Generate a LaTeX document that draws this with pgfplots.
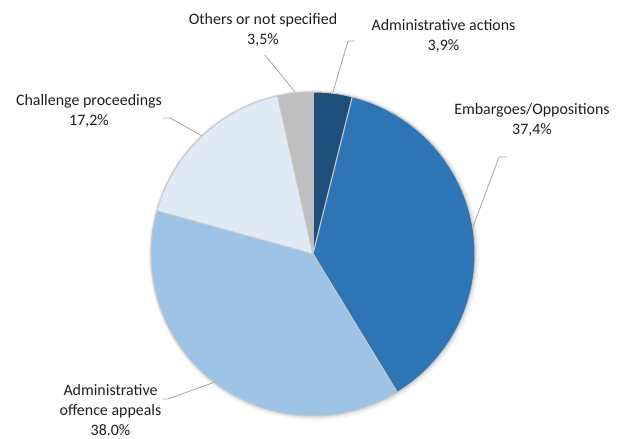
\documentclass[border=0pt]{standalone}
\usepackage{pgfplots}
\pgfplotsset{compat=1.18}
\usepackage{pgfplotstable}
\usepackage{fontspec}
\setmainfont{Carlito}
\definecolor{cA}{HTML}{1F4E79}
\definecolor{cB}{HTML}{2E75B6}
\definecolor{cC}{HTML}{9DC3E6}
\definecolor{cD}{HTML}{DEEBF7}
\definecolor{cE}{HTML}{BFBFBF}
\definecolor{sep}{HTML}{C8C8C8}
\definecolor{lead}{HTML}{A6A6A6}
\definecolor{txt}{HTML}{1E1E1E}
\tikzset{lab/.style={align=center, font=\fontsize{16}{20.5}\selectfont, text=txt, inner sep=0pt}}
\pgfplotstableread{
id share
1 3.9
2 37.4
3 38.0
4 17.2
5 3.5
}\piedata
\begin{document}
\begin{tikzpicture}
\pgfplotstablegetelem{0}{share}\of\piedata \let\sA\pgfplotsretval
\pgfplotstablegetelem{1}{share}\of\piedata \let\sB\pgfplotsretval
\pgfplotstablegetelem{2}{share}\of\piedata \let\sC\pgfplotsretval
\pgfplotstablegetelem{3}{share}\of\piedata \let\sD\pgfplotsretval
\pgfplotstablegetelem{4}{share}\of\piedata \let\sE\pgfplotsretval
\pgfmathsetmacro\aA{90}
\pgfmathsetmacro\aB{\aA-3.6*\sA}
\pgfmathsetmacro\aC{\aB-3.6*\sB}
\pgfmathsetmacro\aD{\aC-3.6*\sC}
\pgfmathsetmacro\aE{\aD-3.6*\sD}
\pgfmathsetmacro\aF{\aE-3.6*\sE}
\begin{axis}[scale only axis, width=625bp, height=439bp,
  xmin=0, xmax=625, ymin=0, ymax=439, hide axis, clip=false]
% soft shadow
\addplot[draw=none, fill=black, opacity=0.05, domain=0:360, samples=120, variable=\t]
  ({314+165*cos(\t)},{184+165*sin(\t)}) -- cycle;
\addplot[draw=none, fill=black, opacity=0.07, domain=0:360, samples=120, variable=\t]
  ({313.5+163.5*cos(\t)},{184.5+163.5*sin(\t)}) -- cycle;
% slices
\addplot[fill=cA, draw=sep, line width=1pt, domain=\aB:\aA, samples=20, variable=\t]
  ({313+162*cos(\t)},{185+162*sin(\t)}) -- (axis cs:313,185) -- cycle;
\addplot[fill=cB, draw=sep, line width=1pt, domain=\aC:\aB, samples=90, variable=\t]
  ({313+162*cos(\t)},{185+162*sin(\t)}) -- (axis cs:313,185) -- cycle;
\addplot[fill=cC, draw=sep, line width=1pt, domain=\aD:\aC, samples=90, variable=\t]
  ({313+162*cos(\t)},{185+162*sin(\t)}) -- (axis cs:313,185) -- cycle;
\addplot[fill=cD, draw=sep, line width=1pt, domain=\aE:\aD, samples=50, variable=\t]
  ({313+162*cos(\t)},{185+162*sin(\t)}) -- (axis cs:313,185) -- cycle;
\addplot[fill=cE, draw=sep, line width=1pt, domain=\aF:\aE, samples=20, variable=\t]
  ({313+162*cos(\t)},{185+162*sin(\t)}) -- (axis cs:313,185) -- cycle;
% leader lines
\draw[lead, line width=0.8pt] (axis cs:333,347) -- (axis cs:348,398) -- (axis cs:355,398);
\draw[lead, line width=0.8pt] (axis cs:295,347) -- (axis cs:265,384);
\draw[lead, line width=0.8pt] (axis cs:473,212) -- (axis cs:499,282) -- (axis cs:507,282);
\draw[lead, line width=0.8pt] (axis cs:163,321) -- (axis cs:170,321) -- (axis cs:202,303);
\draw[lead, line width=0.8pt] (axis cs:163,40) -- (axis cs:168,40) -- (axis cs:215,57);
% labels
\node[lab] at (axis cs:263,409) {Others or not specified\\3,5\%};
\node[lab] at (axis cs:443.5,403) {Administrative actions\\3,9\%};
\node[lab] at (axis cs:532,319) {Embargoes/Oppositions\\37,4\%};
\node[lab] at (axis cs:89,328) {Challenge proceedings\\17,2\%};
\node[lab] at (axis cs:110.5,29) {Administrative\\offence appeals\\38.0\%};
\end{axis}
\pgfresetboundingbox
\path (current axis.south west) rectangle (current axis.north east);
\end{tikzpicture}
\end{document}
